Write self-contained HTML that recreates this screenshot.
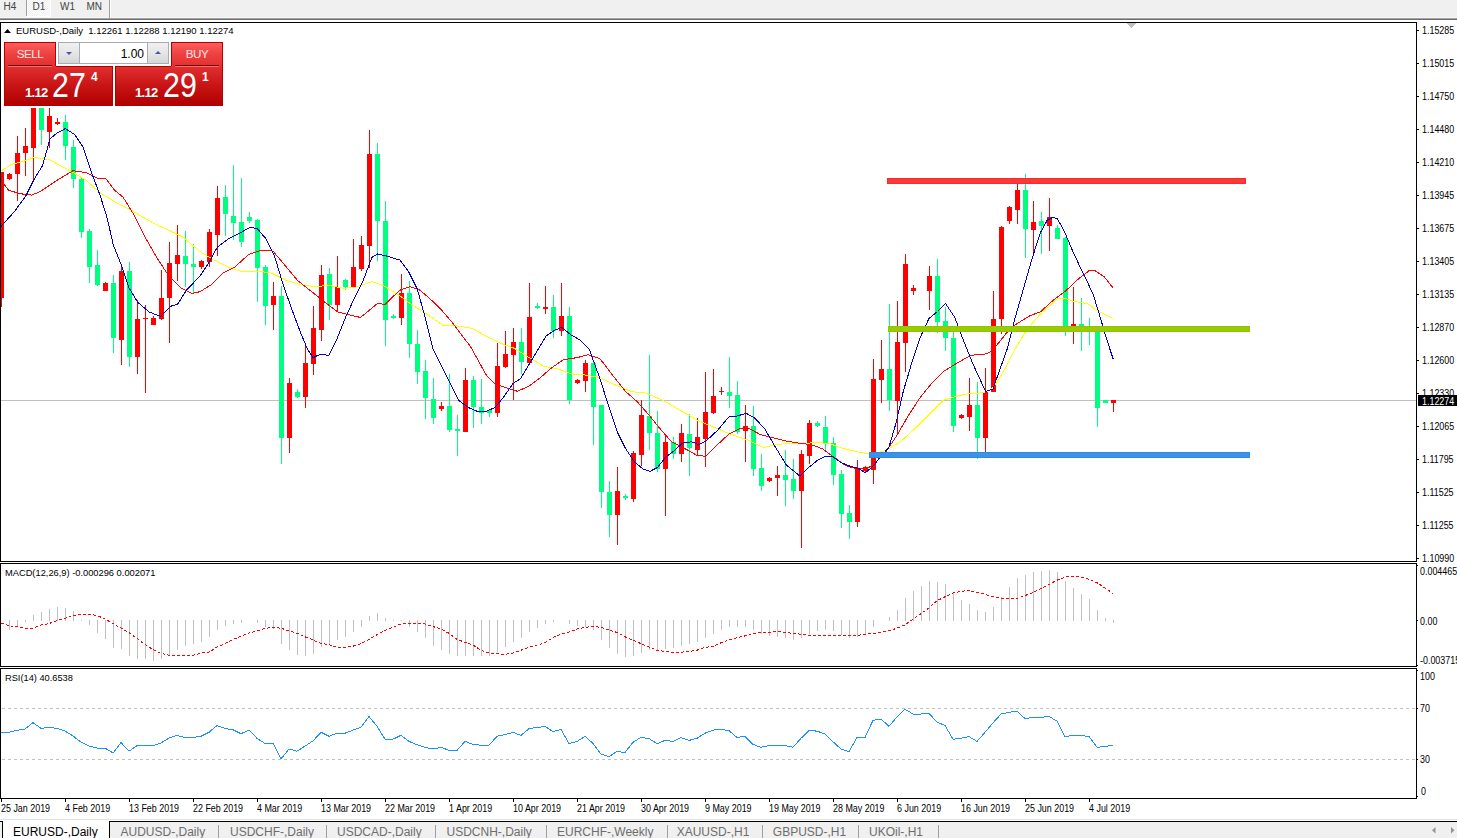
<!DOCTYPE html>
<html><head><meta charset="utf-8"><style>
html,body{margin:0;padding:0}
body{width:1457px;height:838px;overflow:hidden;background:#fff;position:relative;font-family:"Liberation Sans",sans-serif}
svg{position:absolute;left:0;top:0}
.ax,.lb,.tb,.tab{position:absolute;white-space:nowrap;line-height:12px}
.ax{font-size:10.2px;color:#000;transform:scaleX(0.875);transform-origin:0 0;margin-top:1px}
.lb{font-size:9.5px;color:#000}
.tb{font-size:10px;color:#444;line-height:14px}
.tab{font-size:12px;color:#6d6d6d;line-height:14px}
#panel{position:absolute;left:0;top:0}
.sellTab,.buyTab{position:absolute;box-sizing:border-box;border:1px solid #b40000;border-bottom:none;background:linear-gradient(#ff5c5c,#ee4040 50%,#e23030);z-index:2}
.sellTab{left:4px;top:42px;width:52px;height:24px}
.buyTab{left:171px;top:42px;width:52px;height:24px}
.bigL,.bigR{position:absolute;box-sizing:border-box;border:1px solid #b40000;top:66px;height:40px;background:linear-gradient(#e23030,#c81414 50%,#b00000)}
.bigL{left:4px;width:109px;border-top:none}
.bigR{left:115px;width:108px;border-top:none}
.tl{position:absolute;height:1px;background:#b40000}
.sellTab span,.buyTab span{position:absolute;top:4px;left:0;width:100%;text-align:center;color:#ffe8e8;font-size:11.6px;line-height:14px;letter-spacing:-0.5px}
.s,.b,.p{position:absolute;color:#fff;white-space:nowrap}
.s{font-size:13px;font-weight:bold;top:20px;line-height:14px;letter-spacing:-0.7px}
.b{font-size:34.5px;top:0px;line-height:38px;transform:scaleX(0.88);transform-origin:0 0}
.p{font-size:12px;font-weight:bold;top:4px;line-height:14px}
.ulL,.ulR{position:absolute;height:1px;background:#700000;box-shadow:0 1px 0 #f07070;z-index:3}
.ulL{left:8px;top:65px;width:44px}
.ulR{left:175px;top:65px;width:44px}
.spin{position:absolute;left:58px;top:42px;width:111px;height:22px;box-sizing:border-box;border:1px solid #a8acb4;background:#fff}
.spin .bl,.spin .br{position:absolute;top:0;width:20px;height:20px;background:linear-gradient(#f0f0f0,#e6e6e6 50%,#d6d6d6)}
.spin .bl{left:0;border-right:1px solid #a8acb4}
.spin .br{right:0;border-left:1px solid #a8acb4}
.dn{position:absolute;left:7px;top:9px;width:0;height:0;border-left:3px solid transparent;border-right:3px solid transparent;border-top:3px solid #4858a8}
.up{position:absolute;left:7px;top:8px;width:0;height:0;border-left:3px solid transparent;border-right:3px solid transparent;border-bottom:3px solid #4858a8}
.val{position:absolute;right:24px;top:4px;font-size:12px;line-height:14px;color:#000}
</style></head><body>
<svg width="1457" height="838" viewBox="0 0 1457 838">
<rect x="0" y="0" width="1457" height="17" fill="#f0f0f0"/>
<rect x="0" y="17" width="1457" height="1" fill="#f7f7f7"/>
<rect x="0" y="18" width="1457" height="1" fill="#a3a3a3"/>
<rect x="0" y="19" width="1457" height="1" fill="#6e6e6e"/>
<defs><pattern id="chk" width="2" height="2" patternUnits="userSpaceOnUse"><rect width="2" height="2" fill="#f0f0f0"/><rect width="1" height="1" fill="#fff"/><rect x="1" y="1" width="1" height="1" fill="#fff"/></pattern></defs>
<rect x="27" y="0" width="23" height="16" fill="url(#chk)"/>
<rect x="50" y="0" width="1" height="17" fill="#fff"/>
<rect x="26" y="16" width="25" height="1" fill="#fff"/>
<rect x="26" y="0" width="1" height="16" fill="#a0a0a0"/>
<rect x="109" y="0" width="1" height="18" fill="#a0a0a0"/>
<rect x="110" y="0" width="1" height="17" fill="#ffffff"/>
<rect x="0.5" y="22.5" width="1416" height="539" fill="none" stroke="#000" stroke-width="1"/>
<rect x="0.5" y="563.5" width="1416" height="103" fill="none" stroke="#000" stroke-width="1"/>
<rect x="0.5" y="668.5" width="1416" height="130" fill="none" stroke="#000" stroke-width="1"/>
<defs><clipPath id="cm"><rect x="1" y="23" width="1415" height="538"/></clipPath><clipPath id="cd"><rect x="1" y="564" width="1415" height="102"/></clipPath><clipPath id="cr"><rect x="1" y="669" width="1415" height="129"/></clipPath></defs>
<g clip-path="url(#cm)" shape-rendering="crispEdges">
<rect x="1" y="400" width="1415" height="1" fill="#c0c0c0"/>
<path d="M1126 23 L1137 23 L1131.5 28 Z" fill="#c0c0c0"/>
<rect x="1" y="172" width="1" height="135" fill="#ff0000"/>
<rect x="-1" y="172" width="5" height="126" fill="#ff0000"/>
<rect x="9" y="173" width="1" height="7" fill="#ff0000"/>
<rect x="7" y="174" width="5" height="5" fill="#ff0000"/>
<rect x="17" y="136" width="1" height="65" fill="#ff0000"/>
<rect x="15" y="153" width="5" height="21" fill="#ff0000"/>
<rect x="25" y="128" width="1" height="48" fill="#ff0000"/>
<rect x="23" y="146" width="5" height="7" fill="#ff0000"/>
<rect x="33" y="90" width="1" height="92" fill="#ff0000"/>
<rect x="31" y="95" width="5" height="53" fill="#ff0000"/>
<rect x="41" y="90" width="1" height="55" fill="#00ff7f"/>
<rect x="39" y="95" width="5" height="35" fill="#00ff7f"/>
<rect x="49" y="95" width="1" height="53" fill="#ff0000"/>
<rect x="47" y="116" width="5" height="16" fill="#ff0000"/>
<rect x="57" y="118" width="1" height="7" fill="#ff0000"/>
<rect x="55" y="122" width="5" height="2" fill="#ff0000"/>
<rect x="65" y="115" width="1" height="45" fill="#00ff7f"/>
<rect x="63" y="122" width="5" height="24" fill="#00ff7f"/>
<rect x="73" y="140" width="1" height="48" fill="#00ff7f"/>
<rect x="71" y="147" width="5" height="32" fill="#00ff7f"/>
<rect x="81" y="178" width="1" height="60" fill="#00ff7f"/>
<rect x="79" y="179" width="5" height="53" fill="#00ff7f"/>
<rect x="89" y="229" width="1" height="54" fill="#00ff7f"/>
<rect x="87" y="231" width="5" height="36" fill="#00ff7f"/>
<rect x="97" y="250" width="1" height="36" fill="#00ff7f"/>
<rect x="95" y="265" width="5" height="20" fill="#00ff7f"/>
<rect x="105" y="282" width="1" height="9" fill="#ff0000"/>
<rect x="103" y="283" width="5" height="8" fill="#ff0000"/>
<rect x="113" y="275" width="1" height="78" fill="#00ff7f"/>
<rect x="111" y="283" width="5" height="55" fill="#00ff7f"/>
<rect x="121" y="266" width="1" height="99" fill="#ff0000"/>
<rect x="119" y="271" width="5" height="69" fill="#ff0000"/>
<rect x="129" y="262" width="1" height="105" fill="#00ff7f"/>
<rect x="127" y="271" width="5" height="86" fill="#00ff7f"/>
<rect x="137" y="300" width="1" height="74" fill="#ff0000"/>
<rect x="135" y="319" width="5" height="38" fill="#ff0000"/>
<rect x="145" y="305" width="1" height="88" fill="#ff0000"/>
<rect x="143" y="318" width="5" height="1" fill="#ff0000"/>
<rect x="153" y="316" width="1" height="9" fill="#ff0000"/>
<rect x="151" y="318" width="5" height="7" fill="#ff0000"/>
<rect x="161" y="270" width="1" height="50" fill="#ff0000"/>
<rect x="159" y="298" width="5" height="21" fill="#ff0000"/>
<rect x="169" y="242" width="1" height="101" fill="#ff0000"/>
<rect x="167" y="263" width="5" height="35" fill="#ff0000"/>
<rect x="177" y="225" width="1" height="56" fill="#ff0000"/>
<rect x="175" y="255" width="5" height="9" fill="#ff0000"/>
<rect x="185" y="231" width="1" height="56" fill="#00ff7f"/>
<rect x="183" y="256" width="5" height="8" fill="#00ff7f"/>
<rect x="193" y="244" width="1" height="49" fill="#00ff7f"/>
<rect x="191" y="264" width="5" height="3" fill="#00ff7f"/>
<rect x="201" y="260" width="1" height="9" fill="#ff0000"/>
<rect x="199" y="261" width="5" height="6" fill="#ff0000"/>
<rect x="209" y="229" width="1" height="38" fill="#ff0000"/>
<rect x="207" y="232" width="5" height="30" fill="#ff0000"/>
<rect x="217" y="186" width="1" height="70" fill="#ff0000"/>
<rect x="215" y="198" width="5" height="37" fill="#ff0000"/>
<rect x="225" y="185" width="1" height="51" fill="#00ff7f"/>
<rect x="223" y="197" width="5" height="17" fill="#00ff7f"/>
<rect x="233" y="165" width="1" height="75" fill="#00ff7f"/>
<rect x="231" y="216" width="5" height="7" fill="#00ff7f"/>
<rect x="241" y="178" width="1" height="69" fill="#00ff7f"/>
<rect x="239" y="222" width="5" height="20" fill="#00ff7f"/>
<rect x="249" y="212" width="1" height="11" fill="#00ff7f"/>
<rect x="247" y="217" width="5" height="4" fill="#00ff7f"/>
<rect x="257" y="219" width="1" height="83" fill="#00ff7f"/>
<rect x="255" y="220" width="5" height="48" fill="#00ff7f"/>
<rect x="265" y="265" width="1" height="60" fill="#00ff7f"/>
<rect x="263" y="267" width="5" height="39" fill="#00ff7f"/>
<rect x="273" y="282" width="1" height="48" fill="#ff0000"/>
<rect x="271" y="296" width="5" height="9" fill="#ff0000"/>
<rect x="281" y="286" width="1" height="178" fill="#00ff7f"/>
<rect x="279" y="296" width="5" height="142" fill="#00ff7f"/>
<rect x="289" y="378" width="1" height="75" fill="#ff0000"/>
<rect x="287" y="383" width="5" height="55" fill="#ff0000"/>
<rect x="297" y="389" width="1" height="9" fill="#00ff7f"/>
<rect x="295" y="392" width="5" height="5" fill="#00ff7f"/>
<rect x="305" y="345" width="1" height="63" fill="#ff0000"/>
<rect x="303" y="363" width="5" height="34" fill="#ff0000"/>
<rect x="313" y="306" width="1" height="69" fill="#ff0000"/>
<rect x="311" y="328" width="5" height="36" fill="#ff0000"/>
<rect x="321" y="265" width="1" height="76" fill="#ff0000"/>
<rect x="319" y="275" width="5" height="55" fill="#ff0000"/>
<rect x="329" y="268" width="1" height="52" fill="#00ff7f"/>
<rect x="327" y="274" width="5" height="31" fill="#00ff7f"/>
<rect x="337" y="256" width="1" height="56" fill="#ff0000"/>
<rect x="335" y="287" width="5" height="18" fill="#ff0000"/>
<rect x="345" y="279" width="1" height="11" fill="#00ff7f"/>
<rect x="343" y="280" width="5" height="7" fill="#00ff7f"/>
<rect x="353" y="239" width="1" height="49" fill="#ff0000"/>
<rect x="351" y="267" width="5" height="21" fill="#ff0000"/>
<rect x="361" y="236" width="1" height="35" fill="#ff0000"/>
<rect x="359" y="245" width="5" height="24" fill="#ff0000"/>
<rect x="369" y="130" width="1" height="138" fill="#ff0000"/>
<rect x="367" y="154" width="5" height="92" fill="#ff0000"/>
<rect x="377" y="143" width="1" height="118" fill="#00ff7f"/>
<rect x="375" y="154" width="5" height="67" fill="#00ff7f"/>
<rect x="385" y="201" width="1" height="145" fill="#00ff7f"/>
<rect x="383" y="221" width="5" height="99" fill="#00ff7f"/>
<rect x="393" y="314" width="1" height="5" fill="#00ff7f"/>
<rect x="391" y="316" width="5" height="2" fill="#00ff7f"/>
<rect x="401" y="274" width="1" height="51" fill="#ff0000"/>
<rect x="399" y="293" width="5" height="25" fill="#ff0000"/>
<rect x="409" y="281" width="1" height="77" fill="#00ff7f"/>
<rect x="407" y="293" width="5" height="51" fill="#00ff7f"/>
<rect x="417" y="330" width="1" height="54" fill="#00ff7f"/>
<rect x="415" y="344" width="5" height="28" fill="#00ff7f"/>
<rect x="425" y="360" width="1" height="59" fill="#00ff7f"/>
<rect x="423" y="371" width="5" height="27" fill="#00ff7f"/>
<rect x="433" y="378" width="1" height="46" fill="#00ff7f"/>
<rect x="431" y="399" width="5" height="19" fill="#00ff7f"/>
<rect x="441" y="402" width="1" height="9" fill="#ff0000"/>
<rect x="439" y="406" width="5" height="3" fill="#ff0000"/>
<rect x="449" y="374" width="1" height="58" fill="#00ff7f"/>
<rect x="447" y="406" width="5" height="24" fill="#00ff7f"/>
<rect x="457" y="415" width="1" height="41" fill="#00ff7f"/>
<rect x="455" y="429" width="5" height="2" fill="#00ff7f"/>
<rect x="465" y="368" width="1" height="64" fill="#ff0000"/>
<rect x="463" y="380" width="5" height="52" fill="#ff0000"/>
<rect x="473" y="376" width="1" height="52" fill="#00ff7f"/>
<rect x="471" y="380" width="5" height="27" fill="#00ff7f"/>
<rect x="481" y="379" width="1" height="45" fill="#00ff7f"/>
<rect x="479" y="407" width="5" height="6" fill="#00ff7f"/>
<rect x="489" y="410" width="1" height="7" fill="#00ff7f"/>
<rect x="487" y="410" width="5" height="3" fill="#00ff7f"/>
<rect x="497" y="343" width="1" height="74" fill="#ff0000"/>
<rect x="495" y="366" width="5" height="47" fill="#ff0000"/>
<rect x="505" y="331" width="1" height="37" fill="#ff0000"/>
<rect x="503" y="354" width="5" height="13" fill="#ff0000"/>
<rect x="513" y="328" width="1" height="72" fill="#ff0000"/>
<rect x="511" y="342" width="5" height="13" fill="#ff0000"/>
<rect x="521" y="328" width="1" height="46" fill="#00ff7f"/>
<rect x="519" y="342" width="5" height="20" fill="#00ff7f"/>
<rect x="529" y="283" width="1" height="81" fill="#ff0000"/>
<rect x="527" y="317" width="5" height="46" fill="#ff0000"/>
<rect x="537" y="303" width="1" height="6" fill="#00ff7f"/>
<rect x="535" y="306" width="5" height="2" fill="#00ff7f"/>
<rect x="545" y="286" width="1" height="28" fill="#ff0000"/>
<rect x="543" y="307" width="5" height="2" fill="#ff0000"/>
<rect x="553" y="295" width="1" height="43" fill="#00ff7f"/>
<rect x="551" y="307" width="5" height="24" fill="#00ff7f"/>
<rect x="561" y="283" width="1" height="53" fill="#ff0000"/>
<rect x="559" y="316" width="5" height="15" fill="#ff0000"/>
<rect x="569" y="307" width="1" height="97" fill="#00ff7f"/>
<rect x="567" y="316" width="5" height="84" fill="#00ff7f"/>
<rect x="577" y="379" width="1" height="5" fill="#ff0000"/>
<rect x="575" y="380" width="5" height="3" fill="#ff0000"/>
<rect x="585" y="360" width="1" height="32" fill="#ff0000"/>
<rect x="583" y="363" width="5" height="18" fill="#ff0000"/>
<rect x="593" y="360" width="1" height="85" fill="#00ff7f"/>
<rect x="591" y="363" width="5" height="44" fill="#00ff7f"/>
<rect x="601" y="405" width="1" height="103" fill="#00ff7f"/>
<rect x="599" y="405" width="5" height="87" fill="#00ff7f"/>
<rect x="609" y="481" width="1" height="56" fill="#00ff7f"/>
<rect x="607" y="492" width="5" height="23" fill="#00ff7f"/>
<rect x="617" y="467" width="1" height="78" fill="#ff0000"/>
<rect x="615" y="491" width="5" height="24" fill="#ff0000"/>
<rect x="625" y="494" width="1" height="6" fill="#00ff7f"/>
<rect x="623" y="496" width="5" height="2" fill="#00ff7f"/>
<rect x="633" y="451" width="1" height="51" fill="#ff0000"/>
<rect x="631" y="453" width="5" height="46" fill="#ff0000"/>
<rect x="641" y="400" width="1" height="66" fill="#ff0000"/>
<rect x="639" y="415" width="5" height="40" fill="#ff0000"/>
<rect x="649" y="355" width="1" height="95" fill="#00ff7f"/>
<rect x="647" y="416" width="5" height="17" fill="#00ff7f"/>
<rect x="657" y="411" width="1" height="61" fill="#00ff7f"/>
<rect x="655" y="433" width="5" height="36" fill="#00ff7f"/>
<rect x="665" y="434" width="1" height="82" fill="#ff0000"/>
<rect x="663" y="442" width="5" height="27" fill="#ff0000"/>
<rect x="673" y="437" width="1" height="22" fill="#00ff7f"/>
<rect x="671" y="442" width="5" height="12" fill="#00ff7f"/>
<rect x="681" y="424" width="1" height="38" fill="#ff0000"/>
<rect x="679" y="433" width="5" height="21" fill="#ff0000"/>
<rect x="689" y="414" width="1" height="62" fill="#00ff7f"/>
<rect x="687" y="434" width="5" height="14" fill="#00ff7f"/>
<rect x="697" y="418" width="1" height="37" fill="#ff0000"/>
<rect x="695" y="437" width="5" height="13" fill="#ff0000"/>
<rect x="705" y="372" width="1" height="95" fill="#ff0000"/>
<rect x="703" y="412" width="5" height="27" fill="#ff0000"/>
<rect x="713" y="369" width="1" height="45" fill="#ff0000"/>
<rect x="711" y="396" width="5" height="17" fill="#ff0000"/>
<rect x="721" y="387" width="1" height="8" fill="#ff0000"/>
<rect x="719" y="391" width="5" height="1" fill="#ff0000"/>
<rect x="729" y="357" width="1" height="51" fill="#00ff7f"/>
<rect x="727" y="392" width="5" height="4" fill="#00ff7f"/>
<rect x="737" y="381" width="1" height="53" fill="#00ff7f"/>
<rect x="735" y="395" width="5" height="37" fill="#00ff7f"/>
<rect x="745" y="405" width="1" height="57" fill="#ff0000"/>
<rect x="743" y="426" width="5" height="5" fill="#ff0000"/>
<rect x="753" y="406" width="1" height="70" fill="#00ff7f"/>
<rect x="751" y="426" width="5" height="43" fill="#00ff7f"/>
<rect x="761" y="454" width="1" height="37" fill="#00ff7f"/>
<rect x="759" y="468" width="5" height="18" fill="#00ff7f"/>
<rect x="769" y="477" width="1" height="5" fill="#ff0000"/>
<rect x="767" y="478" width="5" height="3" fill="#ff0000"/>
<rect x="777" y="466" width="1" height="30" fill="#ff0000"/>
<rect x="775" y="475" width="5" height="3" fill="#ff0000"/>
<rect x="785" y="450" width="1" height="56" fill="#00ff7f"/>
<rect x="783" y="475" width="5" height="5" fill="#00ff7f"/>
<rect x="793" y="459" width="1" height="40" fill="#00ff7f"/>
<rect x="791" y="479" width="5" height="12" fill="#00ff7f"/>
<rect x="801" y="450" width="1" height="98" fill="#ff0000"/>
<rect x="799" y="454" width="5" height="37" fill="#ff0000"/>
<rect x="809" y="420" width="1" height="44" fill="#ff0000"/>
<rect x="807" y="423" width="5" height="33" fill="#ff0000"/>
<rect x="817" y="421" width="1" height="6" fill="#00ff7f"/>
<rect x="815" y="423" width="5" height="3" fill="#00ff7f"/>
<rect x="825" y="416" width="1" height="36" fill="#00ff7f"/>
<rect x="823" y="427" width="5" height="16" fill="#00ff7f"/>
<rect x="833" y="437" width="1" height="48" fill="#00ff7f"/>
<rect x="831" y="443" width="5" height="32" fill="#00ff7f"/>
<rect x="841" y="470" width="1" height="58" fill="#00ff7f"/>
<rect x="839" y="474" width="5" height="40" fill="#00ff7f"/>
<rect x="849" y="505" width="1" height="34" fill="#00ff7f"/>
<rect x="847" y="513" width="5" height="9" fill="#00ff7f"/>
<rect x="857" y="460" width="1" height="67" fill="#ff0000"/>
<rect x="855" y="469" width="5" height="53" fill="#ff0000"/>
<rect x="865" y="466" width="1" height="6" fill="#ff0000"/>
<rect x="863" y="467" width="5" height="4" fill="#ff0000"/>
<rect x="873" y="359" width="1" height="125" fill="#ff0000"/>
<rect x="871" y="379" width="5" height="91" fill="#ff0000"/>
<rect x="881" y="340" width="1" height="63" fill="#ff0000"/>
<rect x="879" y="369" width="5" height="11" fill="#ff0000"/>
<rect x="889" y="304" width="1" height="107" fill="#00ff7f"/>
<rect x="887" y="369" width="5" height="31" fill="#00ff7f"/>
<rect x="897" y="301" width="1" height="133" fill="#ff0000"/>
<rect x="895" y="342" width="5" height="59" fill="#ff0000"/>
<rect x="905" y="254" width="1" height="118" fill="#ff0000"/>
<rect x="903" y="264" width="5" height="79" fill="#ff0000"/>
<rect x="913" y="285" width="1" height="10" fill="#ff0000"/>
<rect x="911" y="288" width="5" height="3" fill="#ff0000"/>
<rect x="921" y="326" width="1" height="4" fill="#00ff7f"/>
<rect x="919" y="328" width="5" height="1" fill="#00ff7f"/>
<rect x="929" y="266" width="1" height="44" fill="#ff0000"/>
<rect x="927" y="276" width="5" height="15" fill="#ff0000"/>
<rect x="937" y="259" width="1" height="74" fill="#00ff7f"/>
<rect x="935" y="276" width="5" height="46" fill="#00ff7f"/>
<rect x="945" y="307" width="1" height="44" fill="#00ff7f"/>
<rect x="943" y="321" width="5" height="17" fill="#00ff7f"/>
<rect x="953" y="332" width="1" height="100" fill="#00ff7f"/>
<rect x="951" y="338" width="5" height="88" fill="#00ff7f"/>
<rect x="961" y="414" width="1" height="5" fill="#ff0000"/>
<rect x="959" y="415" width="5" height="3" fill="#ff0000"/>
<rect x="969" y="378" width="1" height="53" fill="#ff0000"/>
<rect x="967" y="405" width="5" height="12" fill="#ff0000"/>
<rect x="977" y="382" width="1" height="77" fill="#00ff7f"/>
<rect x="975" y="405" width="5" height="33" fill="#00ff7f"/>
<rect x="985" y="368" width="1" height="85" fill="#ff0000"/>
<rect x="983" y="392" width="5" height="46" fill="#ff0000"/>
<rect x="993" y="291" width="1" height="101" fill="#ff0000"/>
<rect x="991" y="319" width="5" height="73" fill="#ff0000"/>
<rect x="1001" y="226" width="1" height="108" fill="#ff0000"/>
<rect x="999" y="227" width="5" height="92" fill="#ff0000"/>
<rect x="1009" y="206" width="1" height="18" fill="#ff0000"/>
<rect x="1007" y="207" width="5" height="14" fill="#ff0000"/>
<rect x="1017" y="184" width="1" height="40" fill="#ff0000"/>
<rect x="1015" y="190" width="5" height="20" fill="#ff0000"/>
<rect x="1025" y="174" width="1" height="84" fill="#00ff7f"/>
<rect x="1023" y="190" width="5" height="39" fill="#00ff7f"/>
<rect x="1033" y="201" width="1" height="53" fill="#ff0000"/>
<rect x="1031" y="222" width="5" height="8" fill="#ff0000"/>
<rect x="1041" y="212" width="1" height="42" fill="#00ff7f"/>
<rect x="1039" y="221" width="5" height="5" fill="#00ff7f"/>
<rect x="1049" y="198" width="1" height="53" fill="#ff0000"/>
<rect x="1047" y="217" width="5" height="9" fill="#ff0000"/>
<rect x="1057" y="225" width="1" height="14" fill="#00ff7f"/>
<rect x="1055" y="228" width="5" height="11" fill="#00ff7f"/>
<rect x="1065" y="237" width="1" height="99" fill="#00ff7f"/>
<rect x="1063" y="238" width="5" height="89" fill="#00ff7f"/>
<rect x="1073" y="287" width="1" height="57" fill="#ff0000"/>
<rect x="1071" y="324" width="5" height="2" fill="#ff0000"/>
<rect x="1081" y="298" width="1" height="53" fill="#00ff7f"/>
<rect x="1079" y="324" width="5" height="2" fill="#00ff7f"/>
<rect x="1089" y="318" width="1" height="27" fill="#00ff7f"/>
<rect x="1087" y="327" width="5" height="2" fill="#00ff7f"/>
<rect x="1097" y="326" width="1" height="101" fill="#00ff7f"/>
<rect x="1095" y="327" width="5" height="81" fill="#00ff7f"/>
<rect x="1105" y="400" width="1" height="3" fill="#00ff7f"/>
<rect x="1103" y="400" width="5" height="3" fill="#00ff7f"/>
<rect x="1113" y="400" width="1" height="12" fill="#ff0000"/>
<rect x="1111" y="400" width="5" height="3" fill="#ff0000"/>
</g>
<g clip-path="url(#cm)">
<polyline points="0.0,171.6 11.5,164.4 22.9,161.6 34.4,157.3 50.1,160.1 71.6,171.6 86.0,180.2 100.3,193.1 114.6,201.7 128.9,208.9 143.3,217.4 156.2,224.6 169.0,230.3 183.4,237.5 200.0,251.6 214.3,260.2 228.7,267.4 240.1,271.1 257.3,271.1 271.6,273.1 286.0,280.3 300.3,284.6 314.6,286.6 328.9,285.4 343.3,288.3 354.7,287.4 371.9,281.7 383.4,285.4 400.0,295.9 411.5,304.5 422.9,311.7 431.5,317.4 443.0,325.4 457.3,326.0 471.6,328.3 486.0,336.0 500.3,343.2 514.6,348.4 528.9,357.5 543.3,366.1 557.6,369.0 571.9,373.9 583.4,374.7 600.0,377.4 614.3,384.5 631.5,391.7 645.8,393.1 663.0,400.3 680.2,410.3 697.4,420.3 714.6,427.5 731.8,434.7 749.0,440.4 763.3,447.6 774.8,444.7 789.1,443.3 800.0,443.8 814.3,442.7 828.7,443.3 843.0,448.4 857.3,451.9 871.6,454.2 886.0,450.4 900.3,441.8 914.6,428.9 928.9,414.6 943.3,400.3 957.6,396.0 971.9,393.1 978.6,393.4 985.6,391.9 992.6,388.0 997.3,381.8 1001.9,374.0 1008.1,363.2 1015.9,347.6 1025.2,332.1 1031.4,324.3 1042.3,311.9 1057.8,298.4 1065.6,298.4 1073.4,301.5 1082.7,302.6 1088.9,304.2 1096.6,310.4 1104.4,314.3 1113.0,318.4" fill="none" stroke="#ffff00" stroke-width="1" shape-rendering="crispEdges" />
<polyline points="0.0,178.0 2.9,183.0 8.6,190.2 20.0,193.7 31.5,195.1 40.1,191.7 57.3,180.2 73.0,170.7 86.0,172.5 98.9,178.8 106.0,178.8 114.6,190.2 123.2,197.4 134.7,216.0 146.1,238.9 157.6,259.0 169.0,276.2 180.5,287.7 192.0,293.4 200.0,291.7 211.5,284.6 222.9,273.1 234.4,267.4 248.7,254.5 261.6,250.2 273.0,251.1 283.1,263.1 297.4,280.3 311.7,291.7 326.1,303.2 337.5,311.8 349.0,314.7 360.5,317.5 369.1,310.4 377.7,303.2 384.8,304.6 392.0,297.5 400.0,290.2 410.0,286.5 420.1,290.2 431.5,300.2 443.0,311.7 451.6,321.7 460.2,333.2 470.2,346.1 477.4,359.0 486.0,374.7 494.6,383.9 506.0,387.6 517.5,391.3 528.9,386.2 540.4,377.6 551.9,367.6 563.3,359.8 577.7,357.5 587.7,354.7 600.0,358.7 614.3,377.4 625.8,391.7 637.2,401.7 648.7,414.6 660.2,428.9 671.6,441.8 683.1,447.6 697.4,455.6 706.0,456.2 717.5,444.7 728.9,434.1 740.4,428.4 749.0,428.4 760.5,434.7 774.8,438.1 786.2,441.0 800.0,443.3 811.5,444.7 822.9,449.0 834.4,457.6 845.8,465.6 857.3,469.0 868.8,467.6 877.4,460.5 886.0,451.9 897.4,434.7 908.9,414.6 920.3,397.4 931.8,383.1 943.3,371.6 954.7,364.5 969.3,356.2 975.5,354.6 986.4,353.9 992.6,350.7 997.3,344.5 1006.6,332.9 1015.9,324.3 1029.9,315.8 1040.7,311.6 1053.2,300.3 1065.6,291.0 1078.0,279.3 1088.9,270.8 1095.1,270.8 1104.4,277.0 1113.0,287.9" fill="none" stroke="#ff0000" stroke-width="1" shape-rendering="crispEdges" />
<polyline points="0.0,227.5 14.3,211.7 25.8,196.0 34.4,178.8 42.4,165.9 50.1,138.7 57.3,132.9 65.3,128.6 74.5,134.4 83.1,147.2 91.7,173.0 100.3,196.0 107.4,218.9 113.2,244.7 121.8,266.2 128.9,287.7 137.5,302.0 149.0,312.0 160.5,316.3 170.5,306.3 177.6,304.3 186.2,290.5 200.0,276.0 208.6,263.1 217.2,247.3 228.7,238.7 240.1,233.0 250.1,227.3 257.3,228.7 265.9,238.7 274.5,255.9 283.1,284.6 291.7,308.9 300.3,331.9 307.4,349.0 313.2,357.7 320.3,354.2 328.9,355.4 337.5,337.6 346.1,316.1 354.7,297.5 363.3,280.3 371.9,257.4 377.7,253.9 386.2,255.9 400.0,260.1 408.6,271.6 417.2,288.8 424.4,314.6 433.0,348.9 443.0,369.0 451.6,386.2 458.7,400.5 468.8,407.7 477.4,411.4 486.0,411.4 494.6,407.7 503.2,397.7 513.2,383.3 520.3,379.0 528.9,364.7 537.5,350.4 546.1,336.0 554.7,330.3 561.9,327.4 570.5,334.6 580.5,340.3 589.1,348.9 600.0,378.8 608.6,406.0 617.2,431.8 625.8,449.0 634.4,461.9 643.0,469.0 650.1,471.3 657.3,467.6 665.9,457.0 674.5,450.4 683.1,442.7 691.7,441.8 698.9,444.7 706.0,441.0 717.5,430.4 728.9,416.9 737.5,416.0 746.1,413.2 754.7,418.0 764.8,428.9 774.8,446.1 786.2,464.8 800.0,476.2 808.6,467.6 817.2,460.5 825.8,456.2 833.0,457.0 841.5,462.8 850.1,466.2 858.7,468.5 865.3,472.8 873.1,466.2 880.2,457.0 888.8,447.6 896.0,423.2 903.2,391.7 911.7,363.0 920.3,337.2 928.9,318.6 937.5,311.5 945.5,303.5 954.7,317.2 963.3,340.1 971.9,361.6 979.1,377.4 985.7,391.5 992.9,389.2 1000.0,369.1 1007.2,349.0 1014.4,320.4 1023.0,290.3 1031.6,260.2 1040.2,233.0 1047.3,220.1 1053.1,217.2 1057.4,218.7 1064.5,231.6 1071.7,248.8 1078.9,264.5 1086.0,278.9 1093.2,294.6 1100.3,317.5 1106.1,337.6 1113.2,359.1" fill="none" stroke="#0000cd" stroke-width="1" shape-rendering="crispEdges" />
</g>
<g shape-rendering="crispEdges">
<rect x="887.5" y="178.5" width="358" height="5" fill="#fa3a3a" stroke="#ff2727" stroke-width="1"/>
<rect x="888.5" y="326.5" width="361" height="5" fill="#99cc00" stroke="#90c400" stroke-width="1"/>
<rect x="869.5" y="452.5" width="380" height="5" fill="#3b94e2" stroke="#2e8ae2" stroke-width="1"/>
</g>
<g clip-path="url(#cd)" shape-rendering="crispEdges">
<rect x="9" y="620" width="1" height="10" fill="#c0c0c0"/>
<rect x="17" y="620" width="1" height="6" fill="#c0c0c0"/>
<rect x="25" y="620" width="1" height="2" fill="#c0c0c0"/>
<rect x="33" y="615" width="1" height="6" fill="#c0c0c0"/>
<rect x="41" y="612" width="1" height="9" fill="#c0c0c0"/>
<rect x="49" y="609" width="1" height="12" fill="#c0c0c0"/>
<rect x="57" y="607" width="1" height="14" fill="#c0c0c0"/>
<rect x="65" y="608" width="1" height="13" fill="#c0c0c0"/>
<rect x="73" y="611" width="1" height="10" fill="#c0c0c0"/>
<rect x="81" y="620" width="1" height="1" fill="#c0c0c0"/>
<rect x="89" y="620" width="1" height="5" fill="#c0c0c0"/>
<rect x="97" y="620" width="1" height="13" fill="#c0c0c0"/>
<rect x="105" y="620" width="1" height="19" fill="#c0c0c0"/>
<rect x="113" y="620" width="1" height="28" fill="#c0c0c0"/>
<rect x="121" y="620" width="1" height="29" fill="#c0c0c0"/>
<rect x="129" y="620" width="1" height="36" fill="#c0c0c0"/>
<rect x="137" y="620" width="1" height="39" fill="#c0c0c0"/>
<rect x="145" y="620" width="1" height="39" fill="#c0c0c0"/>
<rect x="153" y="620" width="1" height="41" fill="#c0c0c0"/>
<rect x="161" y="620" width="1" height="39" fill="#c0c0c0"/>
<rect x="169" y="620" width="1" height="35" fill="#c0c0c0"/>
<rect x="177" y="620" width="1" height="30" fill="#c0c0c0"/>
<rect x="185" y="620" width="1" height="26" fill="#c0c0c0"/>
<rect x="193" y="620" width="1" height="24" fill="#c0c0c0"/>
<rect x="201" y="620" width="1" height="22" fill="#c0c0c0"/>
<rect x="209" y="620" width="1" height="17" fill="#c0c0c0"/>
<rect x="217" y="620" width="1" height="10" fill="#c0c0c0"/>
<rect x="225" y="620" width="1" height="6" fill="#c0c0c0"/>
<rect x="233" y="620" width="1" height="4" fill="#c0c0c0"/>
<rect x="241" y="620" width="1" height="3" fill="#c0c0c0"/>
<rect x="257" y="620" width="1" height="3" fill="#c0c0c0"/>
<rect x="265" y="620" width="1" height="7" fill="#c0c0c0"/>
<rect x="273" y="620" width="1" height="9" fill="#c0c0c0"/>
<rect x="281" y="620" width="1" height="24" fill="#c0c0c0"/>
<rect x="289" y="620" width="1" height="30" fill="#c0c0c0"/>
<rect x="297" y="620" width="1" height="35" fill="#c0c0c0"/>
<rect x="305" y="620" width="1" height="36" fill="#c0c0c0"/>
<rect x="313" y="620" width="1" height="34" fill="#c0c0c0"/>
<rect x="321" y="620" width="1" height="27" fill="#c0c0c0"/>
<rect x="329" y="620" width="1" height="24" fill="#c0c0c0"/>
<rect x="337" y="620" width="1" height="20" fill="#c0c0c0"/>
<rect x="345" y="620" width="1" height="17" fill="#c0c0c0"/>
<rect x="353" y="620" width="1" height="12" fill="#c0c0c0"/>
<rect x="361" y="620" width="1" height="7" fill="#c0c0c0"/>
<rect x="369" y="616" width="1" height="5" fill="#c0c0c0"/>
<rect x="377" y="613" width="1" height="8" fill="#c0c0c0"/>
<rect x="385" y="618" width="1" height="3" fill="#c0c0c0"/>
<rect x="393" y="620" width="1" height="1" fill="#c0c0c0"/>
<rect x="401" y="620" width="1" height="1" fill="#c0c0c0"/>
<rect x="409" y="620" width="1" height="7" fill="#c0c0c0"/>
<rect x="417" y="620" width="1" height="12" fill="#c0c0c0"/>
<rect x="425" y="620" width="1" height="18" fill="#c0c0c0"/>
<rect x="433" y="620" width="1" height="26" fill="#c0c0c0"/>
<rect x="441" y="620" width="1" height="30" fill="#c0c0c0"/>
<rect x="449" y="620" width="1" height="34" fill="#c0c0c0"/>
<rect x="457" y="620" width="1" height="36" fill="#c0c0c0"/>
<rect x="465" y="620" width="1" height="36" fill="#c0c0c0"/>
<rect x="473" y="620" width="1" height="36" fill="#c0c0c0"/>
<rect x="481" y="620" width="1" height="36" fill="#c0c0c0"/>
<rect x="489" y="620" width="1" height="36" fill="#c0c0c0"/>
<rect x="497" y="620" width="1" height="32" fill="#c0c0c0"/>
<rect x="505" y="620" width="1" height="27" fill="#c0c0c0"/>
<rect x="513" y="620" width="1" height="22" fill="#c0c0c0"/>
<rect x="521" y="620" width="1" height="18" fill="#c0c0c0"/>
<rect x="529" y="620" width="1" height="12" fill="#c0c0c0"/>
<rect x="537" y="620" width="1" height="8" fill="#c0c0c0"/>
<rect x="545" y="620" width="1" height="4" fill="#c0c0c0"/>
<rect x="553" y="620" width="1" height="2" fill="#c0c0c0"/>
<rect x="569" y="620" width="1" height="4" fill="#c0c0c0"/>
<rect x="577" y="620" width="1" height="6" fill="#c0c0c0"/>
<rect x="585" y="620" width="1" height="7" fill="#c0c0c0"/>
<rect x="593" y="620" width="1" height="10" fill="#c0c0c0"/>
<rect x="601" y="620" width="1" height="20" fill="#c0c0c0"/>
<rect x="609" y="620" width="1" height="28" fill="#c0c0c0"/>
<rect x="617" y="620" width="1" height="34" fill="#c0c0c0"/>
<rect x="625" y="620" width="1" height="37" fill="#c0c0c0"/>
<rect x="633" y="620" width="1" height="36" fill="#c0c0c0"/>
<rect x="641" y="620" width="1" height="33" fill="#c0c0c0"/>
<rect x="649" y="620" width="1" height="30" fill="#c0c0c0"/>
<rect x="657" y="620" width="1" height="30" fill="#c0c0c0"/>
<rect x="665" y="620" width="1" height="29" fill="#c0c0c0"/>
<rect x="673" y="620" width="1" height="28" fill="#c0c0c0"/>
<rect x="681" y="620" width="1" height="26" fill="#c0c0c0"/>
<rect x="689" y="620" width="1" height="24" fill="#c0c0c0"/>
<rect x="697" y="620" width="1" height="22" fill="#c0c0c0"/>
<rect x="705" y="620" width="1" height="18" fill="#c0c0c0"/>
<rect x="713" y="620" width="1" height="14" fill="#c0c0c0"/>
<rect x="721" y="620" width="1" height="10" fill="#c0c0c0"/>
<rect x="729" y="620" width="1" height="7" fill="#c0c0c0"/>
<rect x="737" y="620" width="1" height="7" fill="#c0c0c0"/>
<rect x="745" y="620" width="1" height="7" fill="#c0c0c0"/>
<rect x="753" y="620" width="1" height="10" fill="#c0c0c0"/>
<rect x="761" y="620" width="1" height="14" fill="#c0c0c0"/>
<rect x="769" y="620" width="1" height="16" fill="#c0c0c0"/>
<rect x="777" y="620" width="1" height="17" fill="#c0c0c0"/>
<rect x="785" y="620" width="1" height="18" fill="#c0c0c0"/>
<rect x="793" y="620" width="1" height="20" fill="#c0c0c0"/>
<rect x="801" y="620" width="1" height="18" fill="#c0c0c0"/>
<rect x="809" y="620" width="1" height="14" fill="#c0c0c0"/>
<rect x="817" y="620" width="1" height="11" fill="#c0c0c0"/>
<rect x="825" y="620" width="1" height="10" fill="#c0c0c0"/>
<rect x="833" y="620" width="1" height="11" fill="#c0c0c0"/>
<rect x="841" y="620" width="1" height="15" fill="#c0c0c0"/>
<rect x="849" y="620" width="1" height="18" fill="#c0c0c0"/>
<rect x="857" y="620" width="1" height="17" fill="#c0c0c0"/>
<rect x="865" y="620" width="1" height="15" fill="#c0c0c0"/>
<rect x="873" y="620" width="1" height="7" fill="#c0c0c0"/>
<rect x="889" y="617" width="1" height="4" fill="#c0c0c0"/>
<rect x="897" y="610" width="1" height="11" fill="#c0c0c0"/>
<rect x="905" y="598" width="1" height="23" fill="#c0c0c0"/>
<rect x="913" y="591" width="1" height="30" fill="#c0c0c0"/>
<rect x="921" y="586" width="1" height="35" fill="#c0c0c0"/>
<rect x="929" y="581" width="1" height="40" fill="#c0c0c0"/>
<rect x="937" y="582" width="1" height="39" fill="#c0c0c0"/>
<rect x="945" y="584" width="1" height="37" fill="#c0c0c0"/>
<rect x="953" y="593" width="1" height="28" fill="#c0c0c0"/>
<rect x="961" y="600" width="1" height="21" fill="#c0c0c0"/>
<rect x="969" y="604" width="1" height="17" fill="#c0c0c0"/>
<rect x="977" y="610" width="1" height="11" fill="#c0c0c0"/>
<rect x="985" y="612" width="1" height="9" fill="#c0c0c0"/>
<rect x="993" y="607" width="1" height="14" fill="#c0c0c0"/>
<rect x="1001" y="597" width="1" height="24" fill="#c0c0c0"/>
<rect x="1009" y="587" width="1" height="34" fill="#c0c0c0"/>
<rect x="1017" y="578" width="1" height="43" fill="#c0c0c0"/>
<rect x="1025" y="575" width="1" height="46" fill="#c0c0c0"/>
<rect x="1033" y="572" width="1" height="49" fill="#c0c0c0"/>
<rect x="1041" y="571" width="1" height="50" fill="#c0c0c0"/>
<rect x="1049" y="570" width="1" height="51" fill="#c0c0c0"/>
<rect x="1057" y="572" width="1" height="49" fill="#c0c0c0"/>
<rect x="1065" y="581" width="1" height="40" fill="#c0c0c0"/>
<rect x="1073" y="588" width="1" height="33" fill="#c0c0c0"/>
<rect x="1081" y="594" width="1" height="27" fill="#c0c0c0"/>
<rect x="1089" y="599" width="1" height="22" fill="#c0c0c0"/>
<rect x="1097" y="610" width="1" height="11" fill="#c0c0c0"/>
<rect x="1105" y="618" width="1" height="3" fill="#c0c0c0"/>
<rect x="1113" y="620" width="1" height="3" fill="#c0c0c0"/>
</g>
<g clip-path="url(#cd)">
<polyline points="1.0,622.9 9.0,625.8 17.0,626.6 25.0,628.0 33.0,628.0 41.0,625.0 49.0,623.6 57.0,620.6 65.0,618.4 73.0,615.4 81.0,614.7 89.0,614.4 97.0,615.4 105.0,619.0 113.0,623.6 121.0,628.0 129.0,632.6 137.0,638.5 145.0,644.5 153.0,649.7 161.0,653.4 169.0,655.2 177.0,655.7 185.0,655.4 193.0,655.3 201.0,653.1 209.0,652.2 217.0,647.1 225.0,643.6 233.0,639.4 241.0,636.4 249.0,633.0 257.0,630.8 265.0,628.5 273.0,627.3 281.0,628.2 289.0,630.8 297.0,633.3 305.0,636.8 313.0,639.9 321.0,643.6 329.0,644.5 337.0,647.4 345.0,647.4 353.0,646.2 361.0,643.6 369.0,639.4 377.0,634.7 385.0,630.3 393.0,627.3 401.0,623.9 409.0,623.4 417.0,623.4 425.0,623.9 433.0,626.5 441.0,629.1 449.0,633.3 457.0,639.4 465.0,642.3 473.0,645.0 481.0,650.2 489.0,653.1 497.0,653.9 505.0,654.3 513.0,653.1 521.0,650.2 529.0,647.4 537.0,645.0 545.0,642.8 553.0,637.6 561.0,634.2 569.0,632.1 577.0,629.1 585.0,627.3 593.0,626.5 601.0,627.3 609.0,629.9 617.0,632.5 625.0,636.8 633.0,640.2 641.0,643.6 649.0,647.1 657.0,650.2 665.0,651.4 673.0,652.2 681.0,652.2 689.0,651.4 697.0,650.2 705.0,647.4 713.0,646.2 721.0,642.8 729.0,639.9 737.0,637.6 745.0,635.9 753.0,633.3 761.0,632.5 769.0,632.5 777.0,631.6 785.0,632.5 793.0,633.3 801.0,634.2 809.0,635.4 817.0,635.4 825.0,635.4 833.0,635.4 841.0,635.4 849.0,635.4 857.0,635.4 865.0,634.2 873.0,633.3 881.0,632.5 889.0,630.8 897.0,628.2 905.0,624.8 913.0,619.2 921.0,613.6 929.0,608.0 937.0,600.7 945.0,596.8 953.0,593.0 961.0,591.3 969.0,590.5 977.0,592.2 985.0,594.4 993.0,596.8 1001.0,598.2 1009.0,598.5 1017.0,598.2 1025.0,595.6 1033.0,592.5 1041.0,588.7 1049.0,584.4 1057.0,580.2 1065.0,577.1 1073.0,576.2 1081.0,577.1 1089.0,579.3 1097.0,582.7 1105.0,587.9 1113.0,593.5" fill="none" stroke="#ff0000" stroke-width="1" shape-rendering="crispEdges" stroke-dasharray="3,2"/>
</g>
<g shape-rendering="crispEdges">
<line x1="1" y1="708.5" x2="1416" y2="708.5" stroke="#c0c0c0" stroke-dasharray="3,3" stroke-dashoffset="5" stroke-width="1"/>
<line x1="1" y1="759.5" x2="1416" y2="759.5" stroke="#c0c0c0" stroke-dasharray="3,3" stroke-dashoffset="5" stroke-width="1"/>
</g>
<g clip-path="url(#cr)">
<polyline points="1.0,732.3 9.0,732.3 17.0,730.3 25.0,729.0 33.0,722.6 41.0,728.4 49.0,727.2 57.0,728.4 65.0,731.0 73.0,736.0 81.0,742.0 89.0,746.0 97.0,748.0 105.0,748.0 113.0,753.0 121.0,742.6 129.0,751.2 137.0,745.6 145.0,745.6 153.0,745.6 161.0,743.0 169.0,738.0 177.0,735.4 185.0,737.5 193.0,737.5 201.0,736.3 209.0,732.3 217.0,725.5 225.0,728.4 233.0,729.8 241.0,733.7 249.0,730.1 257.0,738.3 265.0,743.5 273.0,743.2 281.0,758.9 289.0,749.0 297.0,751.2 305.0,746.1 313.0,740.9 321.0,732.3 329.0,736.3 337.0,733.2 345.0,733.2 353.0,730.1 361.0,727.2 369.0,716.6 377.0,726.3 385.0,739.2 393.0,739.2 401.0,735.3 409.0,741.4 417.0,744.7 425.0,747.3 433.0,749.0 441.0,747.3 449.0,750.4 457.0,750.4 465.0,741.4 473.0,744.4 481.0,745.2 489.0,745.2 497.0,736.3 505.0,734.6 513.0,732.4 521.0,735.4 529.0,728.6 537.0,727.5 545.0,726.4 553.0,731.6 561.0,729.4 569.0,743.4 577.0,741.5 585.0,736.3 593.0,743.4 601.0,754.0 609.0,756.6 617.0,751.4 625.0,752.5 633.0,742.3 641.0,737.4 649.0,738.5 657.0,743.7 665.0,740.4 673.0,741.4 681.0,737.5 689.0,740.4 697.0,738.3 705.0,733.2 713.0,730.1 721.0,729.4 729.0,730.6 737.0,737.5 745.0,736.3 753.0,744.4 761.0,747.3 769.0,745.6 777.0,745.6 785.0,745.6 793.0,747.3 801.0,738.3 809.0,730.6 817.0,731.1 825.0,734.1 833.0,741.8 841.0,749.0 849.0,751.6 857.0,737.5 865.0,737.5 873.0,720.3 881.0,719.1 889.0,726.3 897.0,716.9 905.0,709.2 913.0,714.0 921.0,714.0 929.0,713.5 937.0,722.0 945.0,725.5 953.0,739.2 961.0,738.3 969.0,736.6 977.0,741.4 985.0,732.3 993.0,722.9 1001.0,714.0 1009.0,712.3 1017.0,711.2 1025.0,718.6 1033.0,717.4 1041.0,717.4 1049.0,716.4 1057.0,721.2 1065.0,736.6 1073.0,735.3 1081.0,735.3 1089.0,736.6 1097.0,747.3 1105.0,746.6 1113.0,745.2" fill="none" stroke="#1e90ff" stroke-width="1" shape-rendering="crispEdges" />
</g>
<g shape-rendering="crispEdges">
<rect x="1417" y="30" width="2" height="1" fill="#000"/>
<rect x="1417" y="63" width="2" height="1" fill="#000"/>
<rect x="1417" y="96" width="2" height="1" fill="#000"/>
<rect x="1417" y="129" width="2" height="1" fill="#000"/>
<rect x="1417" y="162" width="2" height="1" fill="#000"/>
<rect x="1417" y="195" width="2" height="1" fill="#000"/>
<rect x="1417" y="228" width="2" height="1" fill="#000"/>
<rect x="1417" y="261" width="2" height="1" fill="#000"/>
<rect x="1417" y="294" width="2" height="1" fill="#000"/>
<rect x="1417" y="327" width="2" height="1" fill="#000"/>
<rect x="1417" y="360" width="2" height="1" fill="#000"/>
<rect x="1417" y="393" width="2" height="1" fill="#000"/>
<rect x="1417" y="426" width="2" height="1" fill="#000"/>
<rect x="1417" y="459" width="2" height="1" fill="#000"/>
<rect x="1417" y="492" width="2" height="1" fill="#000"/>
<rect x="1417" y="525" width="2" height="1" fill="#000"/>
<rect x="1417" y="558" width="2" height="1" fill="#000"/>
<rect x="1418" y="395" width="39" height="11" fill="#000"/>
<rect x="1417" y="565" width="1" height="1" fill="#000"/>
<rect x="1417" y="620" width="1" height="1" fill="#000"/>
<rect x="1417" y="665" width="1" height="1" fill="#000"/>
<rect x="1417" y="670" width="1" height="1" fill="#000"/>
<rect x="1417" y="708" width="1" height="1" fill="#000"/>
<rect x="1417" y="759" width="1" height="1" fill="#000"/>
<rect x="1417" y="796" width="1" height="1" fill="#000"/>
<rect x="1" y="799" width="1" height="3" fill="#000"/>
<rect x="65" y="799" width="1" height="3" fill="#000"/>
<rect x="129" y="799" width="1" height="3" fill="#000"/>
<rect x="193" y="799" width="1" height="3" fill="#000"/>
<rect x="257" y="799" width="1" height="3" fill="#000"/>
<rect x="321" y="799" width="1" height="3" fill="#000"/>
<rect x="385" y="799" width="1" height="3" fill="#000"/>
<rect x="449" y="799" width="1" height="3" fill="#000"/>
<rect x="513" y="799" width="1" height="3" fill="#000"/>
<rect x="577" y="799" width="1" height="3" fill="#000"/>
<rect x="641" y="799" width="1" height="3" fill="#000"/>
<rect x="705" y="799" width="1" height="3" fill="#000"/>
<rect x="769" y="799" width="1" height="3" fill="#000"/>
<rect x="833" y="799" width="1" height="3" fill="#000"/>
<rect x="897" y="799" width="1" height="3" fill="#000"/>
<rect x="961" y="799" width="1" height="3" fill="#000"/>
<rect x="1025" y="799" width="1" height="3" fill="#000"/>
<rect x="1089" y="799" width="1" height="3" fill="#000"/>
</g>
<path d="M4 33 L11 33 L7.5 29 Z" fill="#000"/>
<rect x="0" y="815" width="1457" height="5" fill="#ffffff"/>
<rect x="0" y="819" width="1457" height="1" fill="#e3e3e3"/>
<rect x="0" y="821" width="1457" height="17" fill="#f0f0f0"/>
<rect x="109" y="821" width="1348" height="1" fill="#000"/>
<rect x="109" y="821" width="1" height="17" fill="#000"/>
<rect x="2" y="821" width="107" height="17" fill="#fff"/>
<rect x="2" y="821" width="1" height="17" fill="#000"/>
<rect x="0" y="821" width="3" height="1" fill="#000"/>
<rect x="218" y="825" width="1" height="13" fill="#a0a0a0"/>
<rect x="326" y="825" width="1" height="13" fill="#a0a0a0"/>
<rect x="435" y="825" width="1" height="13" fill="#a0a0a0"/>
<rect x="546" y="825" width="1" height="13" fill="#a0a0a0"/>
<rect x="667" y="825" width="1" height="13" fill="#a0a0a0"/>
<rect x="762" y="825" width="1" height="13" fill="#a0a0a0"/>
<rect x="858" y="825" width="1" height="13" fill="#a0a0a0"/>
<rect x="938" y="825" width="1" height="13" fill="#a0a0a0"/>
<path d="M1435.5 827 L1435.5 833.5 L1432 830.2 Z" fill="#959595"/>
<path d="M1451 827 L1451 833.5 L1454.5 830.2 Z" fill="#959595"/>
</svg>
<div class="ax" style="left:1422px;top:24px">1.15285</div>
<div class="ax" style="left:1422px;top:57px">1.15015</div>
<div class="ax" style="left:1422px;top:90px">1.14750</div>
<div class="ax" style="left:1422px;top:123px">1.14480</div>
<div class="ax" style="left:1422px;top:156px">1.14210</div>
<div class="ax" style="left:1422px;top:189px">1.13945</div>
<div class="ax" style="left:1422px;top:222px">1.13675</div>
<div class="ax" style="left:1422px;top:255px">1.13405</div>
<div class="ax" style="left:1422px;top:288px">1.13135</div>
<div class="ax" style="left:1422px;top:321px">1.12870</div>
<div class="ax" style="left:1422px;top:354px">1.12600</div>
<div class="ax" style="left:1422px;top:387px">1.12330</div>
<div class="ax" style="left:1422px;top:420px">1.12065</div>
<div class="ax" style="left:1422px;top:453px">1.11795</div>
<div class="ax" style="left:1422px;top:486px">1.11525</div>
<div class="ax" style="left:1422px;top:519px">1.11255</div>
<div class="ax" style="left:1422px;top:552px">1.10990</div>
<div class="ax" style="left:1422px;top:395px;color:#fff">1.12274</div>
<div class="ax" style="left:1420px;top:565px">0.004465</div>
<div class="ax" style="left:1420px;top:615px">0.00</div>
<div class="ax" style="left:1420px;top:654px">-0.003715</div>
<div class="ax" style="left:1420px;top:670px">100</div>
<div class="ax" style="left:1420px;top:702px">70</div>
<div class="ax" style="left:1420px;top:753px">30</div>
<div class="ax" style="left:1421px;top:785px">0</div>
<div class="ax" style="left:1px;top:802px">25 Jan 2019</div>
<div class="ax" style="left:65px;top:802px">4 Feb 2019</div>
<div class="ax" style="left:129px;top:802px">13 Feb 2019</div>
<div class="ax" style="left:193px;top:802px">22 Feb 2019</div>
<div class="ax" style="left:257px;top:802px">4 Mar 2019</div>
<div class="ax" style="left:321px;top:802px">13 Mar 2019</div>
<div class="ax" style="left:385px;top:802px">22 Mar 2019</div>
<div class="ax" style="left:449px;top:802px">1 Apr 2019</div>
<div class="ax" style="left:513px;top:802px">10 Apr 2019</div>
<div class="ax" style="left:577px;top:802px">21 Apr 2019</div>
<div class="ax" style="left:641px;top:802px">30 Apr 2019</div>
<div class="ax" style="left:705px;top:802px">9 May 2019</div>
<div class="ax" style="left:769px;top:802px">19 May 2019</div>
<div class="ax" style="left:833px;top:802px">28 May 2019</div>
<div class="ax" style="left:897px;top:802px">6 Jun 2019</div>
<div class="ax" style="left:961px;top:802px">16 Jun 2019</div>
<div class="ax" style="left:1025px;top:802px">25 Jun 2019</div>
<div class="ax" style="left:1089px;top:802px">4 Jul 2019</div>
<div class="lb" style="left:16px;top:25px">EURUSD-,Daily&nbsp; 1.12261 1.12288 1.12190 1.12274</div>
<div class="lb" style="left:5px;top:567px;font-size:9.3px">MACD(12,26,9) -0.000296 0.002071</div>
<div class="lb" style="left:5px;top:672px;font-size:9.25px">RSI(14) 40.6538</div>
<div class="tb" style="left:3.5px;top:0px">H4</div>
<div class="tb" style="left:32.5px;top:0px">D1</div>
<div class="tb" style="left:60px;top:0px">W1</div>
<div class="tb" style="left:86.5px;top:0px">MN</div>
<div class="tab" style="left:13px;top:825px;color:#000">EURUSD-,Daily</div>
<div class="tab" style="left:120.5px;top:825px">AUDUSD-,Daily</div>
<div class="tab" style="left:230px;top:825px">USDCHF-,Daily</div>
<div class="tab" style="left:337px;top:825px">USDCAD-,Daily</div>
<div class="tab" style="left:446.5px;top:825px">USDCNH-,Daily</div>
<div class="tab" style="left:557px;top:825px">EURCHF-,Weekly</div>
<div class="tab" style="left:676.7px;top:825px">XAUUSD-,H1</div>
<div class="tab" style="left:772.8px;top:825px">GBPUSD-,H1</div>
<div class="tab" style="left:869px;top:825px">UKOil-,H1</div>

<div id="panel"><div style="position:absolute;left:2px;top:40px;width:223px;height:68px;background:#fff"></div>
 <div class="bigL"><span class="s" style="left:20px">1.12</span><span class="b" style="left:47px">27</span><span class="p" style="left:86px">4</span></div>
 <div class="bigR"><span class="s" style="left:19px">1.12</span><span class="b" style="left:47px">29</span><span class="p" style="left:86px">1</span></div>
 <div class="tl" style="left:56px;top:66px;width:57px"></div>
 <div class="tl" style="left:115px;top:66px;width:56px"></div>
 <div class="sellTab"><span>SELL</span></div>
 <div class="buyTab"><span>BUY</span></div>
 <div class="ulL"></div><div class="ulR"></div>
 <div class="spin"><div class="bl"><i class="dn"></i></div><div class="br"><i class="up"></i></div><div class="val">1.00</div></div>
</div>

</body></html>
